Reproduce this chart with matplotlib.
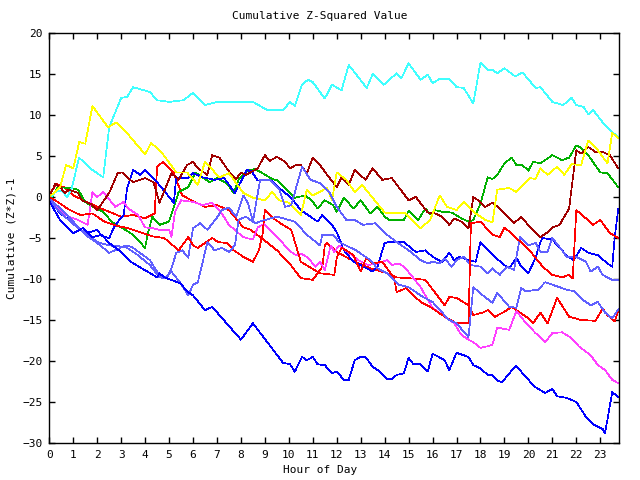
# Cumulative Z-squared by hour, gnuplot-style line chart
import matplotlib
matplotlib.use("Agg")
import matplotlib.pyplot as plt

# ---------------- data ----------------
cyan_h = [0, 0.25, 0.5, 0.75, 0.95, 1.24, 1.8, 2.25, 2.5, 3.0, 3.25, 3.5, 4.2, 4.5, 5.0,
          5.6, 6.0, 6.5, 7.0, 7.54, 8.5, 9.1, 9.76, 10.05, 10.25, 10.55, 10.8, 11.0, 11.5, 11.8,
          12.2, 12.5, 13.25, 13.5, 13.97, 14.5, 14.7, 15.0, 15.5, 15.8, 16.0, 16.3, 16.7, 17.0, 17.3,
          17.7, 18.0, 18.3, 18.5, 18.7, 19.0, 19.45, 19.75, 20.3, 20.5, 21.0, 21.45, 21.8, 22.0, 22.3,
          22.5, 22.7, 23.1, 23.55, 23.75]
cyan_v = [-0.3, 0.6, 0.8, 0.0, 1.2, 4.8, 3.3, 2.4, 8.5, 12.1, 12.2, 13.4, 12.8, 11.8, 11.6,
          11.8, 12.7, 11.2, 11.6, 11.6, 11.6, 10.6, 10.6, 11.6, 11.1, 13.7, 14.3, 14.0, 12.0, 13.7,
          13.0, 16.1, 13.3, 15.0, 13.7, 15.1, 14.5, 16.3, 14.3, 14.9, 13.9, 14.4, 14.4, 13.4, 13.3,
          11.4, 16.4, 15.5, 15.5, 15.1, 15.7, 14.7, 15.2, 13.3, 13.4, 11.6, 11.2, 12.1, 11.2, 11.0,
          10.1, 10.6, 9.1, 7.8, 7.3]

yellow_h = [0, 0.45, 0.7, 1.0, 1.25, 1.5, 1.8, 2.45, 2.8, 3.3, 4.0, 4.25, 4.7, 5.3, 5.75,
            6.2, 6.5, 7.1, 7.5, 8.1, 8.5, 9.0, 9.3, 9.6, 10.0, 10.5, 10.75, 11.0, 11.6, 11.8,
            12.0, 12.4, 12.75, 13.05, 14.0, 14.55, 14.85, 15.5, 15.9, 16.3, 16.6, 17.0, 17.3, 17.8, 18.2,
            18.5, 18.7, 19.2, 19.5, 20.05, 20.3, 20.5, 20.8, 21.2, 21.5, 21.8, 22.2, 22.5, 22.8, 23.3,
            23.5, 23.75]
yellow_v = [0.0, 1.2, 3.9, 3.5, 6.7, 6.5, 11.1, 8.5, 9.1, 7.6, 5.2, 6.6, 5.4, 3.0, 3.0,
            1.5, 4.3, 2.4, 2.9, 0.5, -0.1, -0.4, 0.6, -0.4, -0.7, -2.2, 0.9, 0.2, 1.1, -0.4,
            3.0, 2.1, 0.6, 1.5, -1.9, -2.0, -1.9, -3.8, -2.8, 0.2, -1.2, -1.6, -0.6, -2.0, -2.8,
            -3.1, 0.9, 1.1, 0.6, 2.3, 2.2, 3.5, 2.7, 3.7, 2.7, 4.0, 3.9, 6.9, 6.1, 4.1,
            7.8, 7.2]

darkred_h = [0, 0.25, 0.45, 0.65, 0.8, 1.2, 1.35, 1.7, 2.0, 2.5, 2.85, 3.05, 3.25, 3.5, 4.0,
             4.35, 4.6, 5.1, 5.4, 5.75, 6.0, 6.2, 6.6, 6.8, 7.1, 7.55, 7.8, 8.0, 8.2, 8.4,
             8.7, 9.0, 9.2, 9.5, 9.84, 10.05, 10.3, 10.5, 10.75, 11.0, 11.3, 11.6, 12.0, 12.2, 12.5,
             12.75, 13.2, 13.5, 13.9, 14.3, 15.0, 15.3, 15.8, 16.1, 16.4, 16.7, 16.9, 17.2, 17.5, 17.7,
             17.9, 18.2, 18.5, 18.8, 19.4, 19.7, 20.1, 20.5, 20.8, 21.0, 21.3, 21.7, 22.0, 22.2, 22.5,
             22.8, 23.1, 23.4, 23.75]
darkred_v = [0.0, 1.6, 1.2, 0.5, 0.9, 0.5, -0.4, -0.8, -1.6, 0.5, 2.9, 3.0, 2.4, 1.8, 2.3,
             1.8, -0.7, 2.9, 2.1, 3.9, 4.3, 3.5, 2.7, 5.1, 4.8, 2.9, 2.2, 3.0, 2.7, 3.0,
             3.5, 5.1, 4.4, 4.9, 4.3, 3.5, 3.9, 3.9, 2.9, 4.8, 3.9, 2.7, 1.2, 2.4, 1.5,
             3.3, 2.1, 3.5, 2.1, 2.3, -0.4, 0.0, -1.9, -2.0, -2.4, -3.4, -2.6, -3.0, -3.8, 0.0,
             -0.4, -1.2, -0.7, -1.4, -3.2, -2.4, -3.8, -4.9, -4.3, -3.7, -3.4, -1.4, 5.7, 5.3, 6.1,
             5.5, 5.5, 5.1, 3.5]

green_h = [0, 0.35, 0.85, 1.2, 1.5, 1.8, 2.25, 2.6, 3.05, 3.5, 4.0, 4.1, 4.3, 4.6, 5.0,
           5.2, 5.4, 5.8, 6.1, 6.4, 6.7, 7.0, 7.4, 7.7, 7.9, 8.3, 8.6, 8.9, 9.3, 9.55,
           9.9, 10.25, 10.7, 11.0, 11.2, 11.5, 11.85, 12.0, 12.3, 12.7, 13.0, 13.4, 13.7, 14.0, 14.2,
           14.8, 15.0, 15.4, 15.7, 15.9, 16.1, 16.4, 16.8, 17.2, 17.5, 17.7, 18.0, 18.3, 18.5, 18.7,
           19.0, 19.3, 19.5, 19.75, 20.0, 20.2, 20.5, 21.0, 21.4, 21.7, 22.0, 22.2, 22.5, 23.0, 23.3,
           23.75]
green_v = [-0.6, 1.2, 1.1, 0.9, -0.6, -1.2, -1.8, -3.0, -3.8, -4.6, -6.2, -4.6, -2.4, -3.4, -3.0,
           -1.2, 0.6, 1.2, 3.0, 2.4, 1.8, 2.3, 1.7, 0.5, 2.1, 3.3, 3.4, 2.9, 2.2, 2.0,
           0.9, -0.1, 0.2, -0.6, -1.4, -0.4, -1.0, -1.8, -0.1, -1.4, -0.4, -2.0, -1.2, -2.4, -2.8,
           -2.8, -1.7, -2.8, -1.4, -2.1, -1.6, -1.8, -1.9, -2.6, -3.0, -2.8, -0.8, 2.4, 2.2, 2.7,
           4.1, 4.8, 3.9, 3.9, 3.2, 4.3, 4.1, 5.1, 4.5, 4.8, 6.3, 6.0, 5.1, 3.0, 2.9,
           1.2]

blue1_h = [0, 0.45, 1.0, 1.4, 1.8, 2.2, 2.45, 3.0, 3.4, 4.5, 4.6, 4.8, 5.45, 5.8, 6.0,
           6.5, 6.8, 7.55, 8.0, 8.5, 9.75, 10.05, 10.25, 10.55, 10.75, 11.0, 11.2, 11.5, 11.8, 12.0,
           12.3, 12.5, 12.75, 13.0, 13.2, 13.5, 13.8, 14.1, 14.3, 14.5, 14.8, 15.0, 15.2, 15.5, 15.8,
           16.0, 16.5, 16.7, 17.0, 17.5, 17.7, 18.0, 18.3, 18.5, 18.7, 18.9, 19.2, 19.5, 19.9, 20.3,
           20.7, 21.0, 21.2, 21.6, 22.0, 22.4, 22.7, 23.1, 23.2, 23.5, 23.75]
blue1_v = [-0.5, -2.8, -4.4, -3.8, -4.9, -4.6, -5.5, -6.7, -7.9, -9.8, -9.3, -9.8, -10.5, -11.6, -12.0,
           -13.8, -13.4, -15.9, -17.4, -15.4, -20.2, -20.4, -21.3, -19.5, -19.9, -19.5, -20.4, -20.5, -21.5, -21.3,
           -22.3, -22.3, -19.9, -19.5, -19.5, -20.7, -21.3, -22.2, -22.2, -21.7, -21.5, -19.6, -20.4, -20.4, -21.3,
           -19.1, -19.9, -21.1, -19.0, -19.5, -20.5, -20.9, -21.7, -21.7, -22.4, -22.6, -21.5, -20.6, -22.0, -23.2,
           -23.9, -23.4, -24.3, -24.5, -25.0, -26.8, -27.7, -28.3, -28.8, -23.8, -24.4]

blue2_h = [0, 0.45, 0.85, 1.15, 1.55, 2.0, 2.2, 2.5, 2.75, 3.1, 3.25, 3.5, 3.8, 4.0, 4.15,
           4.5, 5.2, 5.3, 5.5, 5.8, 6.0, 6.4, 6.9, 7.3, 7.75, 8.25, 8.45, 8.7, 9.3, 9.55,
           9.8, 10.1, 10.5, 10.8, 11.2, 11.4, 11.8, 12.0, 12.3, 12.7, 13.0, 13.5, 13.7, 14.0, 14.2,
           14.8, 15.3, 15.7, 16.0, 16.4, 16.7, 16.9, 17.1, 17.5, 17.8, 18.0, 18.4, 18.9, 19.2, 19.5,
           19.7, 20.0, 20.3, 20.5, 20.6, 21.0, 21.4, 21.65, 21.9, 22.2, 22.5, 22.9, 23.3, 23.5, 23.6,
           23.75]
blue2_v = [-0.3, -2.0, -2.8, -3.7, -4.4, -4.0, -4.8, -5.0, -3.4, -2.2, 1.1, 3.3, 2.7, 3.3, 2.9,
           1.8, -0.7, 2.4, 2.3, 2.3, 2.9, 2.4, 2.1, 2.3, 0.5, 3.3, 3.1, 2.0, 2.0, 1.2,
           0.6, -0.1, -1.6, -2.2, -3.0, -2.2, -3.4, -4.3, -6.5, -7.9, -8.3, -9.1, -8.5, -5.6, -5.5,
           -5.5, -6.7, -6.5, -7.3, -7.9, -6.8, -7.7, -7.3, -7.7, -7.9, -5.5, -6.7, -8.1, -8.7, -7.4,
           -8.5, -9.3, -7.4, -5.5, -5.0, -5.2, -6.5, -7.3, -7.7, -6.2, -6.8, -7.1, -8.1, -8.5, -5.0,
           -1.5]

magenta_h = [0, 0.4, 0.8, 1.2, 1.6, 1.8, 2.0, 2.25, 2.45, 2.75, 3.1, 3.3, 3.7, 4.0, 4.3,
             4.6, 5.0, 5.1, 5.25, 5.5, 6.0, 6.4, 6.8, 7.2, 7.5, 8.1, 8.5, 8.7, 8.95, 9.3,
             9.6, 10.1, 10.3, 10.5, 10.8, 11.1, 11.3, 11.5, 11.75, 11.9, 12.1, 12.5, 12.9, 13.3, 13.7,
             14.1, 14.3, 14.6, 14.8, 15.1, 15.5, 16.0, 16.5, 16.9, 17.2, 17.5, 17.7, 18.0, 18.3, 18.5,
             18.7, 19.0, 19.2, 19.5, 19.9, 20.3, 20.7, 21.0, 21.4, 21.8, 22.1, 22.6, 22.9, 23.2, 23.5,
             23.75]
magenta_v = [-0.4, -1.5, -2.4, -2.8, -3.4, 0.6, 0.0, 0.6, -0.1, -1.2, -0.6, -1.4, -2.2, -3.7, -3.8,
             -4.0, -4.0, -4.9, -1.8, -0.4, -0.6, -1.0, -0.7, -2.0, -3.4, -4.9, -5.2, -3.7, -3.3, -4.3,
             -5.2, -6.7, -7.1, -6.9, -7.4, -8.5, -7.9, -8.9, -5.9, -6.7, -5.9, -6.8, -7.7, -8.3, -8.1,
             -7.7, -8.3, -8.1, -8.5, -9.5, -11.0, -13.5, -14.6, -15.4, -16.8, -17.4, -17.7, -18.4, -18.2, -18.0,
             -15.9, -16.1, -16.2, -13.9, -15.4, -16.6, -17.7, -16.6, -16.5, -17.2, -18.2, -19.3, -20.5, -21.1, -22.3,
             -22.7]

redp_h = [0, 0.3, 0.6, 1.0, 1.5, 2.0, 2.5, 3.0, 3.5, 4.0, 4.4, 4.5, 4.75, 5.2, 5.55,
          6.0, 6.5, 7.0, 7.5, 8.1, 8.4, 8.9, 9.5, 10.0, 10.5, 11.0, 11.2, 11.4, 11.5, 11.6,
          12.0, 12.5, 13.0, 13.5, 14.0, 14.5, 15.0, 15.7, 16.5, 16.7, 17.0, 17.5, 17.7, 18.1, 18.3,
          18.6, 19.0, 19.3, 19.6, 20.0, 20.2, 20.5, 20.8, 21.2, 21.7, 22.2, 22.8, 23.1, 23.3, 23.6,
          23.75]
redp_v = [0.3, 1.6, 1.2, 0.2, -0.5, -1.2, -1.8, -2.4, -2.2, -2.6, -2.0, 3.7, 4.3, 2.9, 0.2,
          -0.5, -1.2, -1.0, -1.6, -3.7, -4.0, -5.1, -6.5, -8.0, -9.9, -10.1, -9.3, -8.5, -5.9, -5.6,
          -6.7, -7.5, -8.2, -8.8, -9.2, -9.8, -9.9, -10.1, -13.2, -12.2, -12.3, -13.2, -14.4, -14.1, -13.8,
          -14.6, -14.0, -13.4, -14.0, -14.8, -15.4, -14.1, -15.4, -12.3, -14.6, -15.0, -15.1, -13.6, -14.4, -15.2,
          -13.8]

redq_h = [0, 0.3, 0.8, 1.3, 1.8, 2.3, 2.8, 3.3, 3.8, 4.3, 4.8, 5.4, 5.8, 6.0, 6.2,
          6.5, 6.8, 7.05, 7.4, 7.7, 8.1, 8.5, 8.75, 8.9, 9.0, 9.35, 9.75, 10.1, 10.5, 11.3,
          11.9, 12.0, 12.2, 12.4, 12.7, 13.0, 13.1, 13.25, 13.5, 13.9, 14.1, 14.4, 14.5, 14.9, 15.1,
          15.5, 15.9, 16.4, 17.0, 17.5, 17.6, 18.0, 18.5, 18.8, 19.0, 19.5, 20.1, 20.6, 21.0, 21.4,
          21.7, 21.85, 22.0, 22.4, 22.7, 23.0, 23.4, 23.75]
redq_v = [0.0, -0.5, -1.5, -2.2, -2.0, -3.0, -3.5, -3.8, -4.3, -4.8, -5.0, -6.5, -4.9, -5.9, -6.2,
          -5.6, -5.0, -5.5, -5.6, -6.5, -7.3, -7.9, -6.5, -4.6, -1.6, -2.6, -3.4, -4.0, -7.9, -9.3,
          -9.5, -7.4, -6.2, -6.5, -7.1, -9.1, -8.3, -7.4, -8.1, -7.9, -8.7, -9.9, -11.6, -11.1, -11.7,
          -12.8, -13.4, -14.4, -15.4, -15.4, -3.2, -3.0, -4.6, -4.9, -3.7, -5.0, -6.7, -8.5, -9.5, -9.8,
          -9.5, -9.9, -1.6, -2.6, -3.4, -2.8, -4.4, -5.0]

lba_h = [0, 0.5, 1.0, 1.5, 2.0, 2.5, 3.2, 3.45, 4.2, 4.5, 4.7, 4.9, 5.1, 5.3, 5.55,
         5.8, 6.0, 6.3, 6.6, 7.0, 7.2, 7.5, 7.8, 8.1, 8.3, 8.5, 8.8, 9.2, 9.6, 9.85,
         10.1, 10.55, 10.9, 11.3, 11.7, 12.0, 12.4, 12.75, 13.1, 13.6, 14.1, 14.5, 15.0, 15.5, 15.8,
         16.0, 16.3, 16.5, 16.8, 17.0, 17.3, 17.6, 18.0, 18.3, 18.5, 18.8, 19.1, 19.4, 19.65, 20.0,
         20.3, 20.5, 20.8, 21.0, 21.3, 21.6, 22.0, 22.4, 22.6, 22.9, 23.1, 23.5, 23.75]
lba_v = [-0.2, -1.5, -3.0, -4.6, -5.6, -6.8, -5.9, -6.1, -7.7, -9.1, -9.9, -9.9, -8.7, -6.8, -6.5,
         -7.4, -3.8, -3.2, -4.0, -2.5, -1.6, -1.3, -2.4, 0.2, -0.8, -3.0, 2.1, 2.1, 0.9, -1.2,
         -1.0, 3.7, 2.1, 1.7, 0.5, -1.2, -2.8, -2.8, -3.4, -3.2, -4.6, -5.5, -6.5, -7.7, -8.1,
         -7.9, -8.1, -7.5, -8.5, -7.7, -7.3, -8.3, -8.5, -9.3, -8.7, -9.5, -8.5, -8.9, -4.9, -5.9,
         -5.6, -6.7, -6.7, -5.0, -6.1, -7.3, -7.3, -7.9, -9.1, -8.5, -9.5, -10.1, -10.1]

lbb_h = [0, 0.5, 1.0, 1.6, 2.0, 2.5, 3.2, 3.7, 4.2, 4.6, 4.8, 5.1, 5.45, 5.8, 6.0,
         6.2, 6.6, 6.9, 7.2, 7.5, 7.75, 7.9, 8.2, 8.6, 9.0, 9.5, 10.25, 10.75, 11.3, 11.4,
         11.85, 12.1, 12.8, 13.4, 13.7, 14.1, 14.6, 15.0, 15.6, 16.0, 16.3, 16.7, 17.0, 17.5, 17.7,
         18.1, 18.5, 18.7, 19.2, 19.5, 19.7, 19.9, 20.4, 20.7, 21.0, 21.3, 21.6, 21.9, 22.3, 22.6,
         22.9, 23.2, 23.5, 23.75]
lbb_v = [-0.5, -2.0, -3.3, -4.6, -5.5, -5.9, -6.1, -7.1, -8.3, -9.8, -9.9, -9.1, -10.4, -12.0, -10.7,
         -10.4, -5.5, -6.5, -6.2, -6.7, -5.9, -2.8, -2.4, -3.2, -2.8, -2.4, -3.0, -4.6, -5.9, -4.6,
         -4.6, -5.5, -6.5, -7.7, -8.7, -9.3, -10.7, -11.0, -12.2, -12.8, -13.8, -15.0, -15.4, -17.1, -11.0,
         -12.0, -12.9, -11.7, -13.4, -13.5, -11.1, -11.5, -11.3, -10.4, -10.7, -11.0, -11.3, -11.5, -12.6, -13.2,
         -12.8, -14.1, -14.8, -13.7]

x_ticks = list(range(0, 24))
y_ticks = list(range(-30, 25, 5))

# ---------------- plot ----------------
plt.rcParams['font.family'] = 'DejaVu Sans Mono'
fig = plt.figure(figsize=(6.4, 4.8), dpi=100)
ax = fig.add_axes([49.3 / 640, 1 - 443 / 480, (618.7 - 49.3) / 640, 410 / 480])

# thin 1px unsmoothed lines like the gd terminal
lw = 0.5
series = [
    (redp_h, redp_v, '#ff0000'),
    (green_h, green_v, '#00b000'),
    (blue2_h, blue2_v, '#0000ff'),
    (magenta_h, magenta_v, '#ff40ff'),
    (cyan_h, cyan_v, '#40ffff'),
    (darkred_h, darkred_v, '#a00000'),
    (yellow_h, yellow_v, '#ffff00'),
    (lba_h, lba_v, '#6060ff'),
    (redq_h, redq_v, '#ff0000'),
    (lbb_h, lbb_v, '#6060ff'),
    (blue1_h, blue1_v, '#0000ff'),
]
for hrs, vals, col in series:
    ax.plot(hrs, vals, color=col, lw=lw, antialiased=False)

ax.set_xlim(0, 23.77)
ax.set_ylim(-30, 20)
ax.set_xticks(x_ticks)
ax.set_yticks(y_ticks)
ax.tick_params(direction='in', length=4.5, width=1, top=True, right=True,
               labelsize=8, pad=5)
for s in ax.spines.values():
    s.set_linewidth(1)

fig.text(0.5, 1 - 16 / 480, 'Cumulative Z-Squared Value', ha='center', va='center', fontsize=8)
fig.text(0.5, 1 - 470 / 480, 'Hour of Day', ha='center', va='center', fontsize=8)
fig.text(12 / 640, 1 - 238 / 480, 'Cumulative (Z*Z)-1', ha='center', va='center',
         rotation=90, fontsize=8)

fig.savefig('out.png', dpi=100)
